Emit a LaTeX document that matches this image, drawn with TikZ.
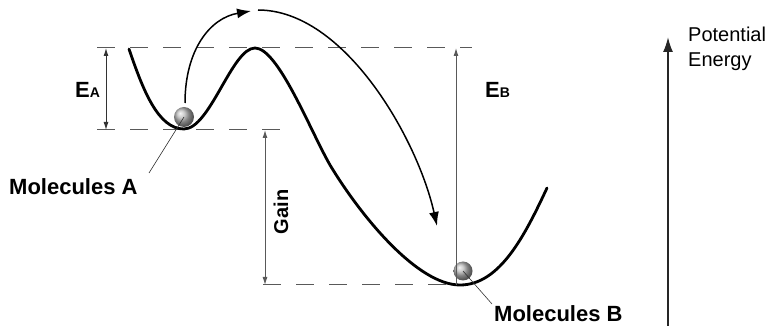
\documentclass[tikz,border=0pt]{standalone}
\usepackage{fontspec}
\setmainfont{Liberation Sans}
\usetikzlibrary{arrows.meta}
\begin{document}
\begin{tikzpicture}[x=1pt,y=-1pt,
  level/.style={draw=black!65, line width=1pt, dash pattern=on 18pt off 15pt},
  dim/.style={draw=black!65, line width=1pt, {Latex[length=8pt,width=5pt]}-{Latex[length=8pt,width=5pt]}},
  upar/.style={draw=black!65, line width=1pt, -{Latex[length=8pt,width=5pt]}},
  pot/.style={line width=2.8pt, line cap=round, line join=round},
  jump/.style={line width=1.5pt, -{Latex[length=14pt,width=10pt]}},
  lead/.style={line width=0.6pt, draw=black!80},
  ball/.style={circle, inner sep=0pt, shading=ball, ball color=gray!55},
  lbl/.style={inner sep=0pt, font=\fontsize{22}{24}\selectfont\bfseries},
  plain/.style={inner sep=0pt, font=\fontsize{20}{25}\selectfont}
]
\useasboundingbox (0,0) rectangle (768,328);
% levels
\draw[level] (97,48) -- (472,48);
\draw[level] (97,130) -- (282,130);
\draw[level] (263,285) -- (462,285);
% potential curve
\draw[pot] (129,49) .. controls (143,90) and (158,129) .. (184,129)
  .. controls (210,129) and (232,48) .. (255,48)
  .. controls (278,48) and (310,130) .. (330,165)
  .. controls (362,218) and (418,285) .. (460,285)
  .. controls (500,285) and (525,235) .. (547,188);
% balls
\node[ball, minimum size=20pt] (ba) at (184,117) {};
\node[ball, minimum size=19pt] (bb) at (463,271) {};
% jump arrows
\coordinate (j0) at (185,103);
\coordinate (j1) at (251,11);
\coordinate (j2) at (258,10);
\coordinate (j3) at (437,226);
\draw[jump] (j0) .. controls (185,50) and (210,18) .. (j1);
\draw[jump] (j2) .. controls (345,10) and (418,140) .. (j3);
% dimension arrows
\coordinate (ea1) at (106,48);
\coordinate (ea2) at (106,130);
\draw[dim, draw=black!80] (ea1) -- (ea2);
\coordinate (g1) at (265,130);
\coordinate (g2) at (265,285);
\draw[dim] (g1) -- (g2);
\coordinate (eb1) at (456,285);
\coordinate (eb2) at (456,48);
\draw[upar] (eb1) -- (eb2);
% labels
\node[lbl, anchor=base west] (ea) at (75,98) {E\fontsize{14}{14}\selectfont A};
\node[lbl, anchor=base west] (eb) at (485,98) {E\fontsize{14}{14}\selectfont B};
\node[lbl, font=\fontsize{20}{22}\selectfont\bfseries, rotate=90] (gain) at (281,212) {Gain};
\node[lbl, anchor=base west] (ma) at (9,195) {Molecules A};
\node[lbl, anchor=base west] (mb) at (494,322) {Molecules B};
\coordinate (la) at (149,173);
\coordinate (lb) at (492,304);
\draw[lead] (ba.center) -- (la);
\draw[lead] (bb.center) -- (lb);
% axis
\coordinate (ax0) at (668,326);
\coordinate (ax1) at (668,37);
\draw[line width=1.8pt, draw=black!85, -{Latex[length=15pt,width=10pt]}] (ax0) -- (ax1);
\node[plain, anchor=base west, align=left] (pe) at (688,67) {Potential\\Energy};
\end{tikzpicture}
\end{document}
